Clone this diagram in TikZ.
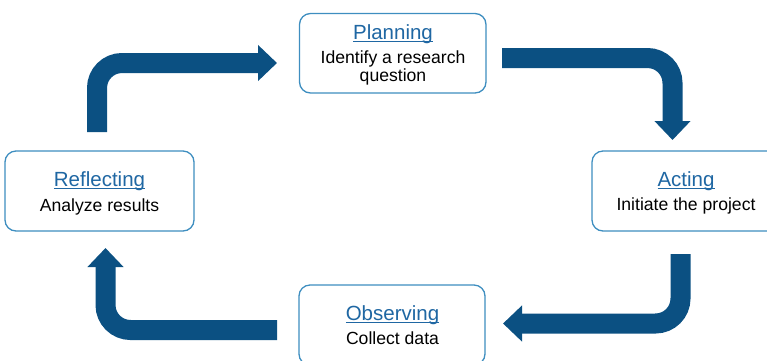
\documentclass[tikz,border=0pt]{standalone}
\usepackage{fontspec}
\setmainfont{Liberation Sans}
\usetikzlibrary{arrows.meta}

\definecolor{boxline}{HTML}{3E8EC0}
\definecolor{linkblue}{HTML}{1F67A3}
\definecolor{arrowblue}{HTML}{0B5082}

% title text with a thin underline just below the baseline
\newcommand\linktitle[1]{\setbox0\hbox{#1}\rlap{\rule[-2.6pt]{\wd0}{1.1pt}}\box0}

\begin{document}
\begin{tikzpicture}[x=1pt,y=-1pt,
  stagebox/.style={draw=boxline, line width=1.3pt, rounded corners=11pt,
    fill=white, inner sep=0pt},
  stagetitle/.style={anchor=base, inner sep=0pt, text=linkblue,
    font=\fontsize{20.5}{24}\selectfont},
  stagetext/.style={anchor=base, inner sep=0pt, text=black,
    font=\fontsize{17.6}{21}\selectfont},
  cyclearrow/.style={draw=arrowblue, line width=20pt, rounded corners=25pt,
    -{Triangle[length=19pt,width=35pt]}}]

\useasboundingbox (0,0) rectangle (767,360);

% stage boxes
\node[stagebox, minimum width=186.5pt, minimum height=79.5pt] (planbox) at (392.75,53.25) {};
\node[stagebox, minimum width=189pt, minimum height=80pt] (reflbox) at (99.5,191) {};
\node[stagebox, minimum width=188pt, minimum height=80pt] (actbox) at (686,191) {};
\node[stagebox, minimum width=186pt, minimum height=80pt] (obsbox) at (392,325) {};

% stage labels
\node[stagetitle] (plantitle) at (393,39.3) {\linktitle{Planning}};
\node[stagetext] (plantext1) at (393,63) {Identify a research};
\node[stagetext] (plantext2) at (393,81.5) {question};

\node[stagetitle] (refltitle) at (99.5,186.7) {\linktitle{Reflecting}};
\node[stagetext] (refltext) at (99.5,211) {Analyze results};

\node[stagetitle] (acttitle) at (686,186.5) {\linktitle{Acting}};
\node[stagetext] (acttext) at (686,210) {Initiate the project};

\node[stagetitle] (obstitle) at (392.5,320) {\linktitle{Observing}};
\node[stagetext] (obstext) at (392.5,344) {Collect data};

% arrow end points
\coordinate (a1s) at (97,132);
\coordinate (a1e) at (277,63);
\coordinate (a2s) at (502,58);
\coordinate (a2e) at (672.5,140);
\coordinate (a3s) at (680.5,254);
\coordinate (a3e) at (503,323.5);
\coordinate (a4s) at (277,330);
\coordinate (a4e) at (105.5,248);

% bent arrows running round the cycle
\draw[cyclearrow] (a1s) |- (a1e);
\draw[cyclearrow] (a2s) -| (a2e);
\draw[cyclearrow] (a3s) |- (a3e);
\draw[cyclearrow] (a4s) -| (a4e);

\end{tikzpicture}
\end{document}
